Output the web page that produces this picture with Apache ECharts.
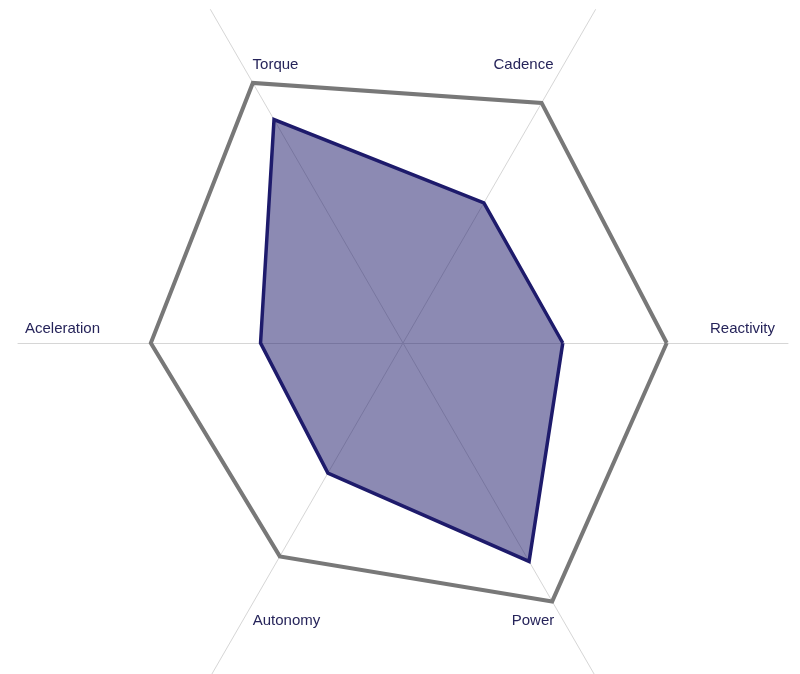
<!DOCTYPE html>
<html>
<head>
<meta charset="utf-8">
<script src="https://cdn.jsdelivr.net/npm/echarts@6.0.0/dist/echarts.min.js"></script>
<style>
  html, body { margin: 0; padding: 0; background: #fff; }
  #main { width: 800px; height: 674px; }
</style>
</head>
<body>
<div id="main"></div>
<script>
// axes, counter-clockwise from the right
var indicators = ["Reactivity", "Cadence", "Torque", "Aceleration", "Autonomy", "Power"];
var referenceValues = [68.5, 72, 78, 65.5, 64, 77.5];
var scoreValues = [41.5, 42, 67, 37, 39, 65.5];
// label nudges [dx, dy] from the axis end point
var nameShift = [[19.5, -14], [-39.5, -1], [32.5, -1], [-20.5, -14], [43.5, 1], [-30, 1]];

var rich = {};
nameShift.forEach(function (s, i) {
  var pad = [0, 0, 0, 0];
  if (s[1] < 0) pad[2] = -2 * s[1]; else pad[0] = 2 * s[1];
  if (s[0] > 0) pad[3] = 2 * s[0]; else pad[1] = -2 * s[0];
  rich["n" + i] = {
    padding: pad,
    color: "#26245a",
    fontSize: 15,
    fontFamily: "Liberation Sans, Arial, sans-serif"
  };
});

var myChart = echarts.init(document.getElementById("main"));
myChart.setOption({
  backgroundColor: "#fff",
  animation: false,
  radar: {
    center: [403, 343],
    radius: 385,
    startAngle: 0,
    nameGap: -65,
    indicator: indicators.map(function (n) {
      return { name: n, max: 100 };
    }),
    axisName: {
      align: "center",
      verticalAlign: "middle",
      color: "#26245a",
      fontSize: 15,
      fontFamily: "Liberation Sans, Arial, sans-serif",
      formatter: function (value) {
        var i = indicators.indexOf(value);
        return "{n" + i + "|" + value + "}";
      },
      rich: rich
    },
    axisLine: { lineStyle: { color: "#d6d6d6", width: 1 } },
    splitLine: { show: false },
    splitArea: { show: false }
  },
  series: [
    {
      type: "radar",
      symbol: "none",
      data: [
        {
          name: "Reference",
          value: referenceValues,
          lineStyle: { color: "#787878", width: 4, join: "miter" }
        },
        {
          name: "Score",
          value: scoreValues,
          lineStyle: { color: "#1d1a6b", width: 3.5, join: "miter" },
          areaStyle: { color: "#221f6e", opacity: 0.52 }
        }
      ]
    }
  ]
});
</script>
</body>
</html>
